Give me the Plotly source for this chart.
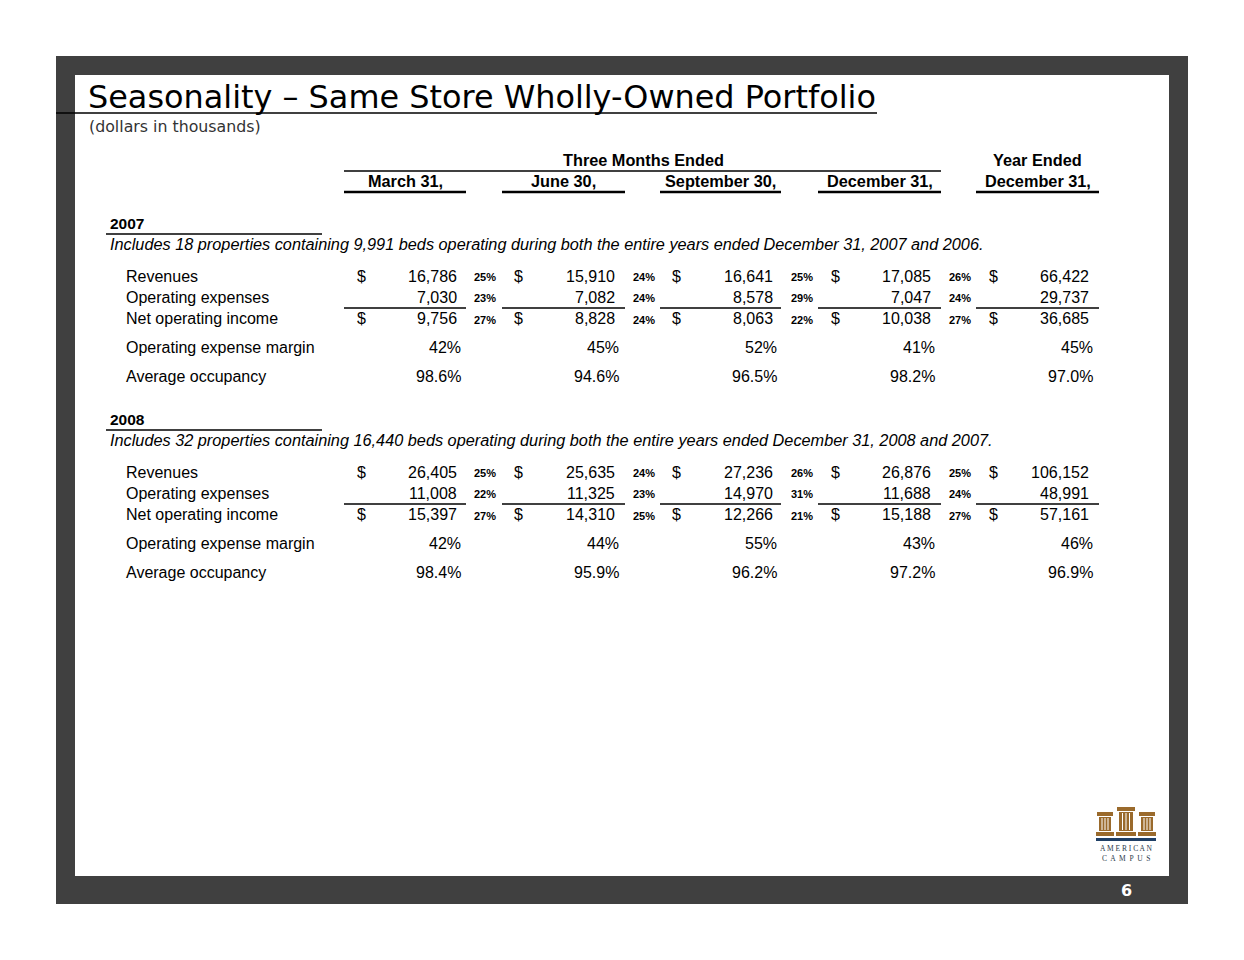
import plotly.graph_objects as go

# ---------------- data ----------------
periods = ["March 31,", "June 30,", "September 30,", "December 31,", "December 31,"]
row_labels = ["Revenues", "Operating expenses", "Net operating income",
              "Operating expense margin", "Average occupancy"]

years = ["2007", "2008"]
notes = [
    "Includes 18 properties containing 9,991 beds operating during both the entire years ended December 31, 2007 and 2006.",
    "Includes 32 properties containing 16,440 beds operating during both the entire years ended December 31, 2008 and 2007.",
]

rev_2007 = [16786, 15910, 16641, 17085, 66422]
rev_pct_2007 = [25, 24, 25, 26]
opex_2007 = [7030, 7082, 8578, 7047, 29737]
opex_pct_2007 = [23, 24, 29, 24]
noi_2007 = [9756, 8828, 8063, 10038, 36685]
noi_pct_2007 = [27, 24, 22, 27]
margin_2007 = [42, 45, 52, 41, 45]
occ_2007 = [98.6, 94.6, 96.5, 98.2, 97.0]

rev_2008 = [26405, 25635, 27236, 26876, 106152]
rev_pct_2008 = [25, 24, 26, 25]
opex_2008 = [11008, 11325, 14970, 11688, 48991]
opex_pct_2008 = [22, 23, 31, 24]
noi_2008 = [15397, 14310, 12266, 15188, 57161]
noi_pct_2008 = [27, 25, 21, 27]
margin_2008 = [42, 44, 55, 43, 46]
occ_2008 = [98.4, 95.9, 96.2, 97.2, 96.9]

blocks = [
    dict(year=years[0], note=notes[0], rev=rev_2007, rev_pct=rev_pct_2007, opex=opex_2007,
         opex_pct=opex_pct_2007, noi=noi_2007, noi_pct=noi_pct_2007, margin=margin_2007, occ=occ_2007),
    dict(year=years[1], note=notes[1], rev=rev_2008, rev_pct=rev_pct_2008, opex=opex_2008,
         opex_pct=opex_pct_2008, noi=noi_2008, noi_pct=noi_pct_2008, margin=margin_2008, occ=occ_2008),
]

# ---------------- layout geometry ----------------
W, H = 1244, 960
OFF = 8  # page body margin compensation
ARIAL = "Liberation Sans, Arial, sans-serif"
VERD = "DejaVu Sans, Verdana, sans-serif"
FS = 16

col_dollar_x = [355, 512, 670, 829, 987]
col_val_right = [459, 617, 775, 933, 1091]
col_pct_x = [472, 631, 789, 947]
col_pctrow_right = [463, 621, 779, 937, 1095]
col_spans = [(344, 466), (502, 625), (660, 781), (818, 941), (976, 1099)]

block_y0 = [223, 419]  # y of year label
row_offsets = [53, 74, 95, 124, 153]  # offsets of rows from year label

annotations = []
shapes = []


def txt(x, y, s, size=FS, color="black", xanchor="left", bold=False, italic=False, family=ARIAL):
    if bold:
        s = f"<b>{s}</b>"
    if italic:
        s = f"<i>{s}</i>"
    annotations.append(dict(x=x, y=y, xref="x", yref="y", text=s, showarrow=False,
                            xanchor=xanchor, yanchor="middle",
                            font=dict(family=family, size=size, color=color)))


def line(x0, x1, y, width=2, color="black"):
    shapes.append(dict(type="line", xref="x", yref="y", x0=x0, x1=x1, y0=y, y1=y,
                       line=dict(color=color, width=width)))


def rect(x0, y0, x1, y1, color):
    shapes.append(dict(type="rect", xref="x", yref="y", x0=x0, x1=x1, y0=y0, y1=y1,
                       fillcolor=color, line=dict(width=0), layer="below"))


# frame
rect(56, 56, 1188, 904, "#404040")
rect(75, 75, 1169, 876, "white")

# title
txt(86, 97, "Seasonality – Same Store Wholly-Owned Portfolio", size=31.9, family=VERD)
line(56, 877, 113, width=1.5)
txt(87, 126, "(dollars in thousands)", size=15.8, color="#333333", family=VERD)

# headers
HFS = 16.3
txt(643, 160, "Three Months Ended", bold=True, xanchor="center", size=HFS)
line(344, 941, 171, width=1.5)
txt(1037, 160, "Year Ended", bold=True, xanchor="center", size=HFS)
for (a, b), p in zip(col_spans, periods):
    txt((a + b) / 2, 181, p, bold=True, xanchor="center", size=HFS)
    line(a, b, 192, width=2.5)

for blk, y0 in zip(blocks, block_y0):
    txt(108, y0, blk["year"], bold=True, size=15.5)
    line(106, 322, y0 + 11, width=1.5)
    txt(108, y0 + 21, blk["note"], italic=True, size=16.3)
    ys = [y0 + o for o in row_offsets]
    for lab, y in zip(row_labels, ys):
        txt(124, y, lab)
    for i in range(5):
        # revenues
        txt(col_dollar_x[i], ys[0], "$")
        txt(col_val_right[i], ys[0], f"{blk['rev'][i]:,}", xanchor="right")
        # opex
        txt(col_val_right[i], ys[1], f"{blk['opex'][i]:,}", xanchor="right")
        # noi
        txt(col_dollar_x[i], ys[2], "$")
        txt(col_val_right[i], ys[2], f"{blk['noi'][i]:,}", xanchor="right")
        line(col_spans[i][0], col_spans[i][1], ys[2] - 10, width=1.5)
        # margin & occupancy
        txt(col_pctrow_right[i], ys[3], f"{blk['margin'][i]}%", xanchor="right")
        txt(col_pctrow_right[i], ys[4], f"{blk['occ'][i]:.1f}%", xanchor="right")
    for i in range(4):
        txt(col_pct_x[i], ys[0] + 1, f"{blk['rev_pct'][i]}%", bold=True, size=11)
        txt(col_pct_x[i], ys[1] + 1, f"{blk['opex_pct'][i]}%", bold=True, size=11)
        txt(col_pct_x[i], ys[2] + 2, f"{blk['noi_pct'][i]}%", bold=True, size=11)

# logo (American Campus)
BROWN = "#9a6a2c"
for (cx0, cx1, top) in [(1097, 1113, 812), (1117, 1135, 807), (1139, 1155, 812)]:
    rect(cx0, top, cx1, top + 4, BROWN)
    rect(cx0 + 2, top + 5, cx1 - 2, 831, BROWN)
    rect(cx0 - 1, 832, cx1 + 1, 836, BROWN)
    for k in range(1, 4):
        xx = cx0 + 2 + k * (cx1 - cx0 - 4) / 4
        shapes.append(dict(type="line", xref="x", yref="y", x0=xx, x1=xx, y0=top + 6, y1=830,
                           line=dict(color="white", width=1)))
rect(1096, 838, 1156, 841, "#1f3f66")
txt(1126, 848, "A M E R I C A N", xanchor="center", size=7.5, color="#2b3a4a", family="Liberation Serif, serif")
txt(1126, 858, "C  A  M  P  U  S", xanchor="center", size=7.5, color="#2b3a4a", family="Liberation Serif, serif")

# page number
txt(1126, 890, "6", bold=True, size=16, color="white", xanchor="center", family=VERD)

fig = go.Figure()
fig.add_trace(go.Scatter(x=[OFF, W + OFF], y=[OFF, H + OFF], mode="markers", marker=dict(opacity=0),
                         hoverinfo="skip", showlegend=False))
fig.update_layout(
    width=W, height=H, margin=dict(l=0, r=0, t=0, b=0),
    paper_bgcolor="white", plot_bgcolor="white",
    xaxis=dict(range=[OFF, W + OFF], visible=False, fixedrange=True),
    yaxis=dict(range=[H + OFF, OFF], visible=False, fixedrange=True),
    annotations=annotations, shapes=shapes, showlegend=False,
)
fig.write_html("out.html")
